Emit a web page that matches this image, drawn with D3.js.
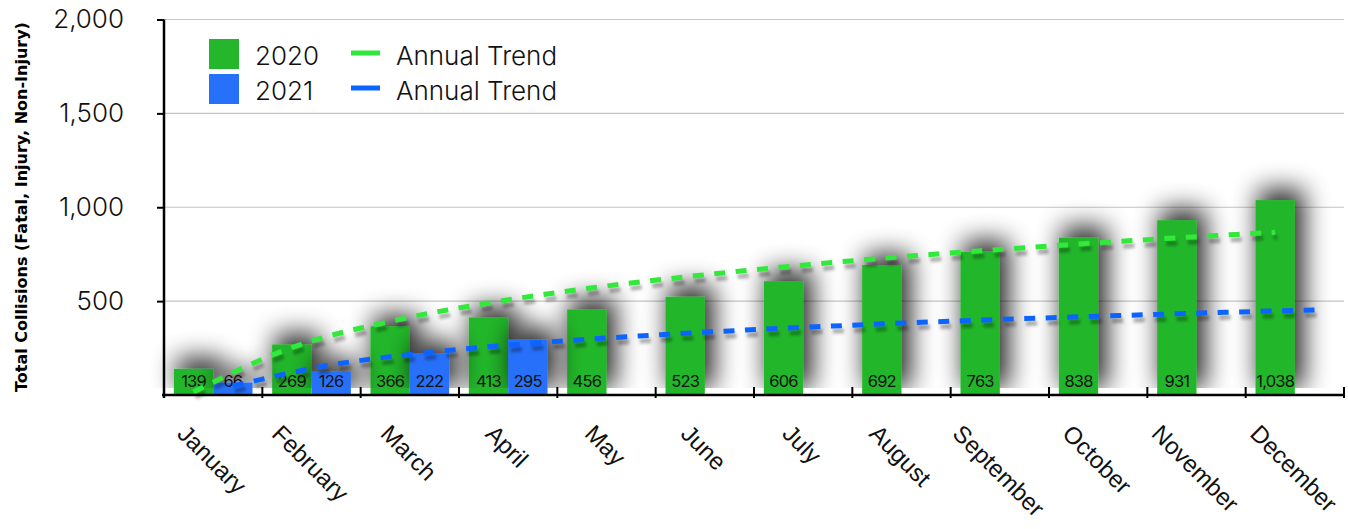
<!DOCTYPE html>
<html>
<head>
<meta charset="utf-8">
<script src="https://cdn.jsdelivr.net/npm/d3@7"></script>
<style>
  body { margin: 0; background: #fff; }
  svg { display: block; }
</style>
</head>
<body>
<div id="chart"></div>
<script>
// data
var months = ["January", "February", "March", "April", "May", "June", "July",
              "August", "September", "October", "November", "December"];
var series = ["2020", "2021"];
var values2020 = [139, 269, 366, 413, 456, 523, 606, 692, 763, 838, 931, 1038];
var values2021 = [66, 126, 222, 295];
// trendline points (one per month)
var trend2020 = [16, 253, 392, 490, 567, 629, 682, 728, 768, 804, 837, 867];
var trend2021 = [48, 160, 227, 274, 310, 340, 365, 387, 406, 423, 439, 453];
var yTicks = [0, 500, 1000, 1500, 2000];

var barColor = { "2020": "#24b72c", "2021": "#2670fa" };
var trendColor = { "2020": "#30e83b", "2021": "#0a64ff" };

var width = 1348, height = 529;
var margin = { top: 19.5, right: 4, bottom: 133, left: 164 };

var svg = d3.select("#chart").append("svg")
    .attr("width", width)
    .attr("height", height);

// shadows: filter region in user space so short bars are not clipped
var defs = svg.append("defs");
var bs = defs.append("filter").attr("id", "barShadow")
    .attr("filterUnits", "userSpaceOnUse")
    .attr("x", 0).attr("y", 0).attr("width", width).attr("height", 396);
bs.append("feMorphology").attr("in", "SourceAlpha").attr("operator", "dilate")
    .attr("radius", 3).attr("result", "dil");
bs.append("feGaussianBlur").attr("in", "dil").attr("stdDeviation", 13).attr("result", "blur");
bs.append("feOffset").attr("in", "blur").attr("dx", 6).attr("dy", -8).attr("result", "off");
bs.append("feComponentTransfer").attr("in", "off").attr("result", "sh")
  .append("feFuncA").attr("type", "linear").attr("slope", 0.85);
var bm = bs.append("feMerge");
bm.append("feMergeNode").attr("in", "sh");
bm.append("feMergeNode").attr("in", "SourceGraphic");

defs.append("filter").attr("id", "lineShadow")
    .attr("filterUnits", "userSpaceOnUse")
    .attr("x", 0).attr("y", 0).attr("width", width).attr("height", height)
  .append("feDropShadow")
    .attr("dx", 2).attr("dy", 5).attr("stdDeviation", 1.5)
    .attr("flood-color", "#000").attr("flood-opacity", 0.3);

var x0 = d3.scaleBand()
    .domain(months)
    .range([margin.left, width - margin.right])
    .paddingInner(0.2)
    .paddingOuter(0.1);

var x1 = d3.scaleBand()
    .domain(series)
    .range([0, x0.bandwidth()]);

var y = d3.scaleLinear()
    .domain([0, 2000])
    .range([395, margin.top]);

// gridlines
svg.append("g").selectAll("line")
    .data(yTicks.filter(d => d > 0))
    .enter().append("line")
    .attr("x1", margin.left).attr("x2", width - margin.right)
    .attr("y1", d => y(d)).attr("y2", d => y(d))
    .attr("stroke", "#c4c4c4").attr("stroke-width", 1.2);

// bars
var bars = [];
values2020.forEach((v, i) => bars.push({ m: months[i], s: "2020", v: v }));
values2021.forEach((v, i) => bars.push({ m: months[i], s: "2021", v: v }));

var barG = svg.append("g");
barG.selectAll("rect")
    .data(bars)
    .enter().append("rect")
    .attr("x", d => x0(d.m) + x1(d.s))
    .attr("y", d => y(d.v))
    .attr("width", x1.bandwidth())
    .attr("height", d => y(0) - y(d.v))
    .attr("fill", d => barColor[d.s])
    .attr("filter", "url(#barShadow)");

svg.append("g").selectAll("text")
    .data(bars)
    .enter().append("text")
    .attr("x", d => x0(d.m) + x1(d.s) + x1.bandwidth() / 2)
    .attr("y", 387)
    .attr("text-anchor", "middle")
    .attr("font-family", "Inter, 'Noto Sans', sans-serif")
    .attr("font-size", 16.5)
    .attr("letter-spacing", -0.8)
    .attr("fill", "#111")
    .text(d => d3.format(",")(d.v));

// trend lines
var trends = [
  { s: "2020", pts: trend2020 },
  { s: "2021", pts: trend2021 }
];
var line = d3.line()
    .x(d => d.x)
    .y(d => y(d.v))
    .curve(d3.curveMonotoneX);

svg.append("g").selectAll("path")
    .data(trends)
    .enter().append("path")
    .attr("d", t => line(t.pts.map((v, i) => ({ x: x0(months[i]) + x1(t.s) + x1.bandwidth() / 2, v: v }))))
    .attr("fill", "none")
    .attr("stroke", t => trendColor[t.s])
    .attr("stroke-width", 5)
    .attr("stroke-dasharray", "11 10.5")
    .attr("filter", "url(#lineShadow)");

// y axis
var yAxis = d3.axisLeft(y)
    .tickValues(yTicks.filter(d => d > 0))
    .tickSize(7)
    .tickPadding(33)
    .tickFormat(d3.format(","));

var yg = svg.append("g")
    .attr("transform", `translate(${margin.left},0)`)
    .call(yAxis);
yg.select(".domain").attr("stroke", "#000").attr("stroke-width", 2.5)
    .attr("d", `M0,${y(2000)}V${y(0)}`);
yg.selectAll(".tick line").attr("stroke", "#000").attr("stroke-width", 2);
yg.selectAll("text")
    .attr("font-family", "Inter, 'Noto Sans', sans-serif")
    .attr("font-weight", 300)
    .attr("font-size", 26)
    .attr("fill", "#111");

// x axis line and ticks at band edges
var xg = svg.append("g");
xg.append("line")
    .attr("x1", margin.left - 2).attr("x2", width - margin.right)
    .attr("y1", y(0)).attr("y2", y(0))
    .attr("stroke", "#000").attr("stroke-width", 2.5);
xg.selectAll(".xt")
    .data(months)
    .enter().append("line")
    .attr("class", "xt")
    .attr("x1", d => x0(d) - x0.step() * x0.paddingInner() / 2 + x0.step())
    .attr("x2", d => x0(d) - x0.step() * x0.paddingInner() / 2 + x0.step())
    .attr("y1", y(0) - 8).attr("y2", y(0) + 3)
    .attr("stroke", "#000").attr("stroke-width", 2);
xg.append("line")
    .attr("x1", margin.left).attr("x2", margin.left)
    .attr("y1", y(0)).attr("y2", y(0) + 3)
    .attr("stroke", "#000").attr("stroke-width", 2.5);

// rotated month labels, top of rotated box at y=425, centred on band
var labelSize = 24;
var xl = svg.append("g").selectAll("text")
    .data(months)
    .enter().append("text")
    .attr("font-family", "'Liberation Sans', Arial, sans-serif")
    .attr("font-size", labelSize)
    .attr("fill", "#111")
    .attr("text-anchor", "middle")
    .attr("dominant-baseline", "central")
    .text(d => d);
xl.attr("transform", function(d) {
    var w = this.getComputedTextLength();
    var cx = x0(d) + x0.bandwidth() / 2;
    var cy = 423 + (w / 2 + labelSize * 0.36) * Math.SQRT1_2;
    return `translate(${cx - 1},${cy}) rotate(45)`;
});

// y axis title
svg.append("text")
    .attr("transform", `translate(27,207) rotate(-90)`)
    .attr("text-anchor", "middle")
    .attr("font-family", "'DejaVu Sans', sans-serif")
    .attr("font-weight", "bold")
    .attr("font-size", 16)
    .attr("fill", "#000")
    .text("Total Collisions (Fatal, Injury, Non-Injury)");

// legend
var legend = svg.append("g");
series.forEach((s, i) => {
    var ly = 39 + i * 35;
    legend.append("rect")
        .attr("x", 209).attr("y", ly)
        .attr("width", 30).attr("height", 30)
        .attr("fill", barColor[s]);
    legend.append("text")
        .attr("x", 255).attr("y", ly + 26)
        .attr("font-family", "Inter, 'Noto Sans', sans-serif")
        .attr("font-weight", 300)
        .attr("font-size", 26)
        .attr("fill", "#111")
        .text(s);
    legend.append("line")
        .attr("x1", 351).attr("x2", 380)
        .attr("y1", ly + 14).attr("y2", ly + 14)
        .attr("stroke", trendColor[s])
        .attr("stroke-width", 5);
    legend.append("text")
        .attr("x", 396).attr("y", ly + 26)
        .attr("font-family", "Inter, 'Noto Sans', sans-serif")
        .attr("font-weight", 300)
        .attr("font-size", 26)
        .attr("fill", "#111")
        .text("Annual Trend");
});
</script>
</body>
</html>
